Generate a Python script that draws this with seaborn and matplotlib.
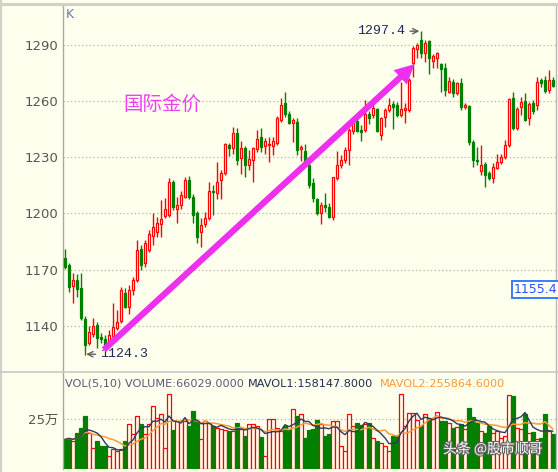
import numpy as np
import pandas as pd
import matplotlib
matplotlib.use("Agg")
import matplotlib.pyplot as plt
import matplotlib.patheffects as pe
from matplotlib.lines import Line2D
import seaborn as sns

# ---- daily gold candles ----
opens = [1176.0, 1172.5, 1161.2, 1164.4, 1160.0, 1143.6, 1130.6, 1135.4, 1140.4, 1134.2,
         1132.8, 1129.7, 1134.5, 1138.6, 1142.7, 1157.3, 1150.2, 1159.1, 1164.4, 1180.8,
         1173.5, 1180.5, 1188.0, 1190.3, 1194.2, 1198.8, 1199.2, 1217.0, 1202.4, 1204.5,
         1209.0, 1217.9, 1209.0, 1200.0, 1190.3, 1194.2, 1197.4, 1212.0, 1210.7, 1217.9,
         1221.4, 1236.5, 1234.8, 1242.8, 1229.4, 1234.8, 1225.9, 1228.5, 1234.5, 1240.9,
         1236.3, 1236.5, 1236.0, 1237.8, 1250.2, 1259.1, 1253.4, 1248.5, 1249.1, 1234.5,
         1233.2, 1226.0, 1216.2, 1207.6, 1200.0, 1204.5, 1203.3, 1198.3, 1218.8, 1225.9,
         1228.6, 1234.0, 1244.3, 1249.5, 1244.6, 1244.6, 1253.3, 1252.6, 1256.0, 1241.9,
         1251.7, 1255.3, 1258.3, 1258.0, 1252.6, 1255.3, 1255.3, 1280.2, 1287.9, 1292.7,
         1285.6, 1292.2, 1281.5, 1282.9, 1279.7, 1277.5, 1265.0, 1270.4, 1264.5, 1269.5,
         1256.7, 1257.4, 1238.3, 1228.5, 1222.8, 1226.4, 1221.4, 1218.7, 1224.1, 1227.6,
         1230.0, 1236.5, 1261.5, 1245.5, 1257.0, 1260.2, 1250.8, 1259.2, 1257.9, 1271.3,
         1271.3, 1265.9, 1271.3]
highs = [1181.0, 1173.3, 1168.0, 1167.5, 1168.0, 1145.4, 1140.0, 1144.0, 1142.0, 1136.0,
         1135.0, 1137.7, 1152.0, 1148.4, 1160.9, 1160.0, 1161.8, 1166.2, 1185.8, 1183.1,
         1186.0, 1191.0, 1200.0, 1198.3, 1207.0, 1208.4, 1218.7, 1217.9, 1209.0, 1212.0,
         1219.6, 1220.2, 1210.5, 1201.5, 1197.4, 1200.9, 1217.0, 1215.0, 1227.3, 1223.0,
         1237.5, 1237.5, 1246.3, 1245.5, 1238.7, 1236.0, 1233.9, 1235.5, 1244.5, 1245.8,
         1240.3, 1241.0, 1241.0, 1252.0, 1261.8, 1265.0, 1254.5, 1251.0, 1251.0, 1236.5,
         1237.3, 1227.0, 1218.9, 1208.5, 1206.0, 1210.8, 1205.5, 1219.6, 1233.6, 1231.0,
         1235.7, 1245.5, 1251.0, 1252.5, 1247.5, 1260.4, 1255.0, 1257.8, 1256.6, 1251.8,
         1256.5, 1261.9, 1260.0, 1259.4, 1270.1, 1258.8, 1272.2, 1289.5, 1291.0, 1297.4,
         1292.7, 1292.7, 1285.0, 1286.5, 1280.5, 1280.2, 1272.7, 1271.6, 1270.4, 1272.2,
         1259.2, 1257.9, 1239.2, 1235.7, 1236.5, 1227.6, 1222.8, 1226.8, 1231.7, 1232.0,
         1239.2, 1261.5, 1265.0, 1257.0, 1262.4, 1264.2, 1259.7, 1260.6, 1272.7, 1272.2,
         1273.4, 1276.6, 1273.0]
lows = [1170.3, 1158.2, 1152.0, 1155.5, 1143.0, 1124.3, 1129.7, 1134.2, 1128.0, 1130.6,
        1128.0, 1128.0, 1133.0, 1137.7, 1141.6, 1149.3, 1146.3, 1156.4, 1163.5, 1169.8,
        1171.6, 1179.6, 1183.1, 1187.6, 1187.6, 1197.7, 1198.3, 1201.8, 1194.7, 1202.4,
        1208.1, 1208.0, 1194.7, 1184.0, 1182.2, 1193.0, 1196.5, 1199.0, 1208.0, 1208.0,
        1220.5, 1230.5, 1232.0, 1225.9, 1221.0, 1219.6, 1223.2, 1217.0, 1233.0, 1233.0,
        1232.0, 1227.3, 1231.0, 1236.5, 1249.0, 1251.5, 1247.9, 1238.0, 1231.0, 1228.0,
        1226.0, 1213.4, 1206.3, 1199.2, 1194.2, 1200.8, 1197.4, 1196.5, 1218.0, 1224.5,
        1226.8, 1226.0, 1242.4, 1243.7, 1238.6, 1243.5, 1247.8, 1251.2, 1243.8, 1239.3,
        1246.4, 1254.0, 1245.2, 1251.7, 1251.7, 1248.2, 1254.0, 1273.1, 1282.9, 1283.0,
        1280.8, 1274.3, 1277.9, 1277.6, 1265.1, 1263.0, 1264.2, 1262.0, 1263.3, 1255.3,
        1255.6, 1236.5, 1225.0, 1225.9, 1220.5, 1214.3, 1217.9, 1216.4, 1223.6, 1226.4,
        1228.9, 1235.6, 1244.6, 1244.6, 1252.6, 1249.6, 1247.2, 1253.1, 1255.3, 1267.7,
        1264.5, 1264.2, 1267.4]
closes = [1171.6, 1160.9, 1164.4, 1159.5, 1144.0, 1129.7, 1136.8, 1140.0, 1133.3, 1132.8,
          1128.8, 1135.1, 1139.2, 1142.2, 1159.1, 1150.2, 1159.1, 1164.4, 1180.5, 1172.4,
          1184.0, 1189.0, 1193.0, 1194.7, 1197.0, 1202.4, 1216.6, 1203.6, 1204.5, 1209.8,
          1217.9, 1209.0, 1199.2, 1187.6, 1193.8, 1197.4, 1212.0, 1211.3, 1216.9, 1221.4,
          1237.0, 1234.8, 1242.8, 1228.5, 1234.8, 1225.9, 1229.0, 1234.8, 1239.8, 1235.5,
          1238.6, 1237.3, 1238.6, 1251.1, 1257.7, 1252.9, 1248.5, 1249.7, 1234.0, 1235.3,
          1227.0, 1215.3, 1208.1, 1200.2, 1204.3, 1203.3, 1198.3, 1219.3, 1225.9, 1228.6,
          1234.0, 1244.4, 1248.8, 1244.3, 1243.7, 1253.0, 1251.0, 1256.2, 1244.2, 1250.8,
          1255.3, 1258.0, 1257.1, 1252.6, 1255.8, 1256.2, 1271.3, 1288.6, 1290.0, 1285.6,
          1290.9, 1282.9, 1284.1, 1285.6, 1277.2, 1266.0, 1270.7, 1264.5, 1269.8, 1256.7,
          1257.9, 1238.3, 1228.5, 1228.2, 1225.9, 1220.5, 1218.7, 1225.0, 1227.6, 1230.3,
          1236.5, 1261.0, 1245.5, 1255.6, 1259.7, 1249.9, 1258.5, 1254.9, 1270.4, 1269.5,
          1265.6, 1271.3, 1268.1]
# volume in thousands
volumes = [148, 157, 140, 182, 207, 265, 182, 107, 140, 115,
           115, 65, 98, 90, 98, 140, 223, 173, 265, 223,
           173, 223, 315, 257, 277, 103, 373, 193, 240, 240,
           240, 215, 290, 240, 148, 240, 232, 215, 207, 198,
           193, 190, 190, 232, 198, 165, 223, 223, 215, 160,
           65, 248, 248, 207, 190, 215, 198, 298, 265, 273,
           157, 193, 198, 243, 227, 165, 173, 240, 240, 115,
           90, 277, 215, 232, 220, 223, 232, 157, 140, 132,
           115, 90, 165, 165, 373, 215, 282, 282, 243, 215,
           273, 253, 248, 287, 240, 240, 232, 207, 210, 223,
           198, 307, 260, 232, 190, 182, 215, 182, 190, 157,
           165, 370, 365, 207, 198, 273, 182, 187, 148, 157,
           277, 190, 173]

price_ticks = [1140, 1170, 1200, 1230, 1260, 1290]
vol_ticks = [250000]
vol_tick_labels = ["25万"]
low_label = "1124.3"
high_label = "1297.4"
cross_label = "1155.4"
title_text = "国际金价"

BG = "#FFFFEE"
RED = "#FF0000"
GREEN = "#008000"
W, H = 558, 472

df = pd.DataFrame({"open": opens, "high": highs, "low": lows, "close": closes,
                   "vol": np.array(volumes) * 1000.0})
df["idx"] = np.arange(len(df))
df["up"] = df["close"] >= df["open"]
df["ma5"] = df["vol"].rolling(5, min_periods=1).mean()
df["ma10"] = df["vol"].rolling(10, min_periods=1).mean()

sns.set_theme(style="white", rc={"axes.facecolor": BG, "figure.facecolor": BG})
plt.rcParams["font.family"] = ["DejaVu Sans", "Noto Sans CJK SC"]

fig = plt.figure(figsize=(W / 100, H / 100), dpi=100)


def fx(px):
    return px / W


def fy(py):
    return 1 - py / H


ax_p = fig.add_axes([fx(63), fy(372), fx(556) - fx(63), fy(5) - fy(372)])
ax_v = fig.add_axes([fx(63), fy(469), fx(556) - fx(63), fy(372) - fy(469)])

# ---- candles ----
cols = np.where(df["up"], RED, GREEN)
faces = np.where(df["up"], BG, GREEN)
ax_p.vlines(df["idx"], df["low"], df["high"], colors=cols, lw=1, zorder=2)
body_lo = np.minimum(df["open"], df["close"])
body_h = np.maximum(np.abs(df["close"] - df["open"]), 0.6)
ax_p.bar(df["idx"], body_h, bottom=body_lo, width=0.7, color=faces,
         edgecolor=cols, linewidth=0.9, zorder=3)

ax_p.set_xlim(-0.5, 122.75)
ax_p.set_ylim(1115.3, 1311.4)
ax_p.set_yticks(price_ticks)
ax_p.set_xticks([])
ax_p.grid(axis="y", linestyle=(0, (1, 2)), color="#B4B4B4", lw=0.9)
ax_p.grid(axis="x", visible=False)
ax_p.tick_params(axis="y", length=0, pad=3.6, labelsize=9.5, labelcolor="#555555")

# ---- volume ----
ax_v.bar(df["idx"], df["vol"], width=0.78, color=faces, edgecolor=cols,
         linewidth=0.9, zorder=2)
sns.lineplot(x=df["idx"], y=df["ma10"], ax=ax_v, color="#FF9933", lw=1.1, zorder=4)
sns.lineplot(x=df["idx"], y=df["ma5"], ax=ax_v, color="#2E3B5C", lw=1.0, zorder=5)
ax_v.set_xlim(-0.5, 122.75)
ax_v.set_ylim(0, 485000)
ax_v.set_yticks(vol_ticks)
ax_v.set_yticklabels(vol_tick_labels)
ax_v.set_xticks([])
ax_v.set_xlabel("")
ax_v.set_ylabel("")
ax_v.grid(axis="y", linestyle=(0, (1, 2)), color="#B4B4B4", lw=0.9)
ax_v.grid(axis="x", visible=False)
ax_v.tick_params(axis="y", length=0, pad=3.6, labelsize=9.5, labelcolor="#555555")

for ax in (ax_p, ax_v):
    for s in ax.spines.values():
        s.set_visible(False)
    ax.spines["left"].set_visible(True)
    ax.spines["left"].set_color("#A8A8A8")
    ax.spines["left"].set_linewidth(1)
    ax.spines["right"].set_visible(True)
    ax.spines["right"].set_color("#B8B8B8")
    ax.spines["right"].set_linewidth(1)

# frame lines
fig.add_artist(Line2D([0, 1], [fy(4), fy(4)], color="#D4D0C8", lw=2.2))
fig.add_artist(Line2D([fx(1), fx(1)], [0, 1], color="#D4D0C8", lw=1.6))
fig.add_artist(Line2D([0, 1], [fy(372), fy(372)], color="#C8C8C8", lw=1.2))

# ---- annotations ----
fig.text(fx(66), fy(15), "K", color="#6A7AA0", fontsize=9, va="center")
ax_p.text(14.5, 1258.5, title_text, color="#EE40EE", fontsize=14, va="center",
          family=["Noto Sans CJK SC"])

ax_p.annotate("", xy=(87.9, 1280.8), xytext=(9.2, 1126.2),
              arrowprops=dict(arrowstyle="simple,head_length=1.4,head_width=1.4,tail_width=0.45",
                              color="#EE30EE", lw=0, mutation_scale=10), zorder=6)

ax_p.annotate(low_label, xy=(5.3, 1124.8), xytext=(14, 0), textcoords="offset pixels",
              ha="left", va="center", color="#1A2A5A", fontsize=9.5,
              family=["Liberation Mono"],
              arrowprops=dict(arrowstyle="->", color="#606060", lw=1, shrinkA=1, shrinkB=0))
ax_p.annotate(high_label, xy=(88.6, 1297.4), xytext=(-14, 0), textcoords="offset pixels",
              ha="right", va="center", color="#1A2A5A", fontsize=9.5,
              family=["Liberation Mono"],
              arrowprops=dict(arrowstyle="->", color="#606060", lw=1, shrinkA=1, shrinkB=0))

fig.text(fx(535.5), fy(289.5), cross_label, color="#2255FF", fontsize=9, ha="center",
         va="center", bbox=dict(boxstyle="square,pad=0.15", facecolor=BG,
                                edgecolor="#3A7BFF", lw=1.4))

# volume header
fig.text(fx(65), fy(384), "VOL(5,10) VOLUME:66029.0000", color="#5A5A78", fontsize=8.1, va="center")
fig.text(fx(248), fy(384), "MAVOL1:158147.8000", color="#1F2E4F", fontsize=8.1, va="center")
fig.text(fx(380), fy(384), "MAVOL2:255864.6000", color="#FF9933", fontsize=8.1, va="center")

fig.text(fx(443), fy(449), "头条 @股市顺哥", color="white", fontsize=10, va="center",
         family=["Noto Sans CJK SC", "DejaVu Sans"],
         path_effects=[pe.withStroke(linewidth=1.6, foreground="#606060")])

fig.savefig("out.png", dpi=100, facecolor=BG)
